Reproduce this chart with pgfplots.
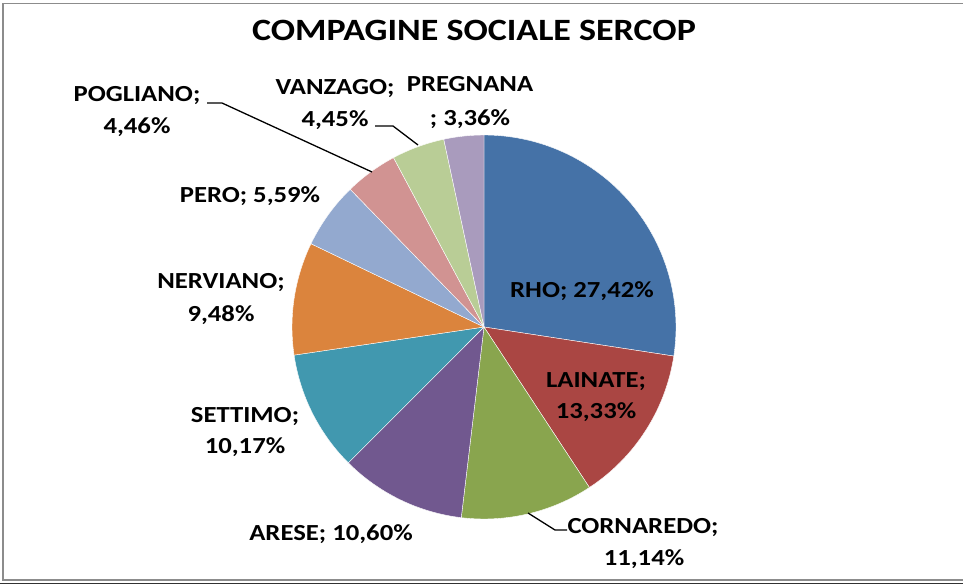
\documentclass[border=0pt]{standalone}
\usepackage{pgfplots}
\pgfplotsset{compat=1.18}
\usepackage{pgfplotstable}
\usepackage{fontspec}
\setmainfont{Carlito}[FakeStretch=1.16]

% Excel 2007 palette
\definecolor{cRHO}{HTML}{4572A7}
\definecolor{cLAI}{HTML}{AA4643}
\definecolor{cCOR}{HTML}{89A54E}
\definecolor{cARE}{HTML}{71588F}
\definecolor{cSET}{HTML}{4198AF}
\definecolor{cNER}{HTML}{DB843D}
\definecolor{cPER}{HTML}{93A9CF}
\definecolor{cPOG}{HTML}{D19392}
\definecolor{cVAN}{HTML}{B9CD96}
\definecolor{cPRE}{HTML}{A99BBD}
\definecolor{framegray}{HTML}{8C8C8C}

\pgfplotstableread[col sep=comma]{
name,value,color
RHO,27.42,cRHO
LAINATE,13.33,cLAI
CORNAREDO,11.14,cCOR
ARESE,10.60,cARE
SETTIMO,10.17,cSET
NERVIANO,9.48,cNER
PERO,5.59,cPER
POGLIANO,4.46,cPOG
VANZAGO,4.45,cVAN
PREGNANA,3.36,cPRE
}\sharetable

\begin{document}
\begin{tikzpicture}
% start/end angle of each slice, clockwise from 12 o'clock
\def\cumsum{0}
\foreach \i in {0,...,9}{
  \pgfplotstablegetelem{\i}{value}\of\sharetable
  \pgfmathsetmacro\a{90-3.6*\cumsum}
  \pgfmathsetmacro\newsum{\cumsum+\pgfplotsretval}
  \pgfmathsetmacro\b{90-3.6*\newsum}
  \expandafter\xdef\csname sa\i\endcsname{\a}
  \expandafter\xdef\csname ea\i\endcsname{\b}
  \pgfplotstablegetelem{\i}{color}\of\sharetable
  \expandafter\xdef\csname col\i\endcsname{\pgfplotsretval}
  \xdef\cumsum{\newsum}
}

\useasboundingbox (0pt,0pt) rectangle (963pt,-585pt);
\fill[white] (0pt,0pt) rectangle (963pt,-585pt);

\begin{axis}[
  hide axis,
  x=192pt, y=192pt,
  xmin=-1, xmax=1, ymin=-1, ymax=1,
  at={(484pt,-327pt)}, anchor=center,
  clip=false,
]
\pgfplotsinvokeforeach{0,...,9}{
  \fill[fill=\csname col#1\endcsname, draw=white, line width=0.4pt]
    (axis cs:0,0) -- (axis cs:{cos(\csname sa#1\endcsname)},{sin(\csname sa#1\endcsname)})
    arc[start angle=\csname sa#1\endcsname, end angle=\csname ea#1\endcsname, radius=192pt]
    -- cycle;
}
\end{axis}

\begin{scope}[x=1pt, y=-1pt]
  % frame
  \draw[framegray, line width=1.5pt] (963,3.5) -- (3,3.5) -- (3,580) -- (963,580);
  \draw[black!80, line width=1pt] (0,583.5) -- (963,583.5);

  % title
  \node[anchor=base, font=\fontsize{31}{36}\selectfont\bfseries] at (474,41)
    {COMPAGINE SOCIALE SERCOP};

  % leader lines
  \draw[black, line width=1.3pt] (207,103) -- (222,103) -- (372,172);
  \draw[black, line width=1.3pt] (375,126) -- (393,126) -- (418,145);
  \draw[black, line width=1.3pt] (567,530) -- (555,530) -- (528,513);

  % data labels
  \begin{scope}[every node/.style={anchor=base, inner sep=0pt,
      font=\fontsize{23}{28}\selectfont\bfseries}]
    \node at (582,297) {RHO; 27,42\%};
    \node at (596,387) {LAINATE;};
    \node at (596,418) {13,33\%};
    \node at (643,533) {CORNAREDO;};
    \node at (644,565) {11,14\%};
    \node at (331,540) {ARESE; 10,60\%};
    \node at (245,422) {SETTIMO;};
    \node at (245,453) {10,17\%};
    \node at (221,288) {NERVIANO;};
    \node at (221,321) {9,48\%};
    \node at (250,203) {PERO; 5,59\%};
    \node at (137,102) {POGLIANO;};
    \node at (137,134) {4,46\%};
    \node at (335,95) {VANZAGO;};
    \node at (335,127) {4,45\%};
    \node at (470,92) {PREGNANA};
    \node at (470,126) {; 3,36\%};
  \end{scope}
\end{scope}
\end{tikzpicture}
\end{document}
